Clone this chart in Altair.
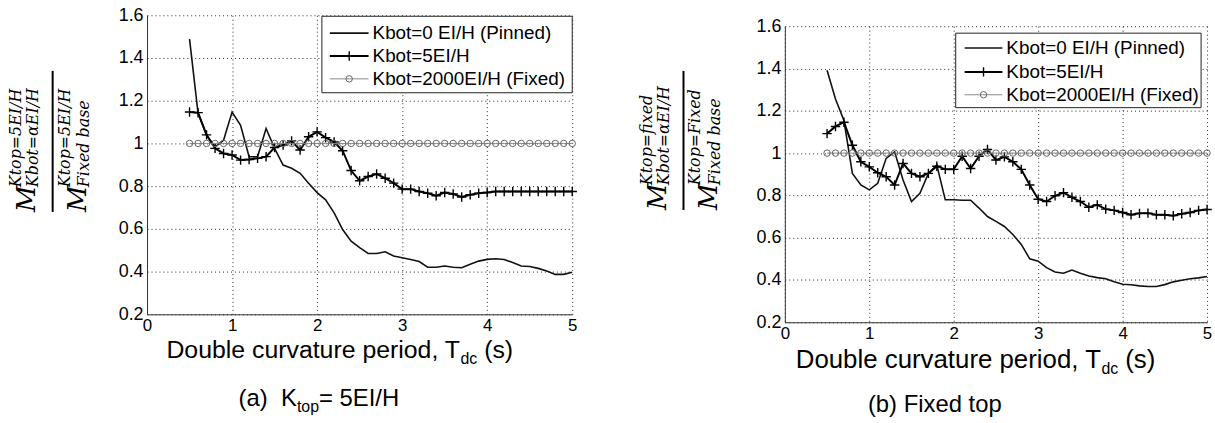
import altair as alt
import pandas as pd

# ---------------- data ----------------
T = [0.5, 0.6, 0.7, 0.8, 0.9, 1.0, 1.1, 1.2, 1.3, 1.4, 1.5, 1.6, 1.7, 1.8, 1.9,
     2.0, 2.1, 2.2, 2.3, 2.4, 2.5, 2.6, 2.7, 2.8, 2.9, 3.0, 3.1, 3.2, 3.3, 3.4,
     3.5, 3.6, 3.7, 3.8, 3.9, 4.0, 4.1, 4.2, 4.3, 4.4, 4.5, 4.6, 4.7, 4.8, 4.9, 5.0]

left_pinned = [1.488, 1.141, 1.039, 0.984, 1.015, 1.147, 1.085, 0.938, 0.938, 1.070,
               0.977, 0.899, 0.884, 0.860, 0.814, 0.770, 0.736, 0.675, 0.597, 0.542,
               0.512, 0.485, 0.485, 0.493, 0.473, 0.465, 0.457, 0.447, 0.421, 0.420,
               0.426, 0.420, 0.418, 0.434, 0.449, 0.457, 0.460, 0.457, 0.442, 0.426,
               0.424, 0.415, 0.403, 0.387, 0.387, 0.397]
left_k5 = [1.147, 1.144, 1.040, 0.977, 0.953, 0.946, 0.922, 0.925, 0.930, 0.938,
           0.981, 0.992, 1.012, 0.969, 1.031, 1.054, 1.027, 1.007, 0.966, 0.873,
           0.825, 0.845, 0.857, 0.837, 0.814, 0.786, 0.786, 0.775, 0.767, 0.755,
           0.770, 0.763, 0.749, 0.760, 0.767, 0.770, 0.775, 0.775, 0.775, 0.775,
           0.775, 0.775, 0.775, 0.775, 0.775, 0.775]
right_pinned = [1.392, 1.256, 1.154, 0.904, 0.849, 0.826, 0.857, 0.975, 1.006, 0.873,
                0.771, 0.810, 0.904, 0.943, 0.779, 0.779, 0.777, 0.777, 0.740, 0.700,
                0.677, 0.653, 0.615, 0.568, 0.500, 0.489, 0.458, 0.438, 0.432, 0.447,
                0.432, 0.419, 0.411, 0.406, 0.391, 0.380, 0.377, 0.372, 0.369, 0.369,
                0.378, 0.391, 0.399, 0.406, 0.410, 0.416]
right_k5 = [1.092, 1.126, 1.146, 1.037, 0.959, 0.935, 0.907, 0.888, 0.849, 0.951,
            0.904, 0.888, 0.904, 0.938, 0.923, 0.923, 0.985, 0.927, 0.985, 1.017,
            0.967, 0.982, 0.959, 0.923, 0.849, 0.782, 0.771, 0.798, 0.813, 0.791,
            0.771, 0.744, 0.755, 0.735, 0.729, 0.719, 0.708, 0.715, 0.716, 0.708,
            0.708, 0.704, 0.713, 0.719, 0.729, 0.733]
fixed_base = [1.0, 1.0, 1.0, 1.0, 1.0, 1.0, 1.0, 1.0, 1.0, 1.0, 1.0, 1.0, 1.0, 1.0, 1.0,
              1.0, 1.0, 1.0, 1.0, 1.0, 1.0, 1.0, 1.0, 1.0, 1.0, 1.0, 1.0, 1.0, 1.0, 1.0,
              1.0, 1.0, 1.0, 1.0, 1.0, 1.0, 1.0, 1.0, 1.0, 1.0, 1.0, 1.0, 1.0, 1.0, 1.0, 1.0]

SERIES = ["Kbot=0 EI/H (Pinned)", "Kbot=5EI/H", "Kbot=2000EI/H (Fixed)"]
X_TICKS = [0, 1, 2, 3, 4, 5]
Y_TICKS = [0.2, 0.4, 0.6, 0.8, 1.0, 1.2, 1.4, 1.6]

SANS = "Liberation Sans"
SERIF = "DejaVu Serif"
PLUS = "M-1,0H1M0,-1V1"
NB = "\u00a0"

AW = {' ': 278, NB: 278, '(': 333, ')': 333, ',': 278, '.': 278, '/': 278, '=': 584,
      'A': 667, 'D': 722, 'E': 667, 'F': 611, 'H': 722, 'I': 278, 'K': 667,
      'T': 611, 'a': 556, 'b': 556, 'c': 500, 'd': 556, 'e': 556, 'i': 222,
      'l': 222, 'n': 556, 'o': 556, 'p': 556, 'r': 333, 's': 500, 't': 278,
      'u': 556, 'v': 500, 'x': 500}


def tw(s, size):
    return sum(AW.get(c, 556) for c in s) / 1000.0 * size


one = alt.Chart(pd.DataFrame({"k": [0]}))


def txt(x, y, s, size, font=SANS, align="left", baseline="alphabetic", angle=0, style="normal", color="black"):
    kw = dict(align=align, baseline=baseline, font=font, fontSize=size, color=color, fontStyle=style)
    if angle:
        kw["angle"] = angle
    return one.mark_text(**kw).encode(x=alt.value(x), y=alt.value(y), text=alt.value(s))


def sub_text(parts, center_x, base_y, big, small):
    # parts: (text, is_subscript, gap_before_in_px)
    total = sum(tw(p, small if s else big) + g for p, s, g in parts)
    x = center_x - total / 2.0
    out = []
    for p, s, g in parts:
        x += g
        if s:
            out.append(txt(x, base_y + 6, p, small))
            x += tw(p, small)
        else:
            out.append(txt(x, base_y, p, big))
            x += tw(p, big)
    return out


def panel(pinned, k5, W, H, leg, frac, xt, cap):
    n = len(T)
    df = pd.DataFrame({
        "T": T * 3,
        "v": pinned + k5 + fixed_base,
        "s": ["pinned"] * n + ["k5"] * n + ["fixed"] * n,
    })
    X = alt.X("T:Q", scale=alt.Scale(domain=[0, 5], nice=False, zero=False),
              axis=alt.Axis(values=X_TICKS, format="d", title=None, grid=True,
                            gridColor="black", gridDash=[1, 3], gridOpacity=0.85,
                            ticks=False, domainColor="#333", domainWidth=1,
                            labelFont=SANS, labelFontSize=17, labelColor="black",
                            labelPadding=3, labelFlush=False))
    Y = alt.Y("v:Q", scale=alt.Scale(domain=[0.2, 1.6], nice=False, zero=False),
              axis=alt.Axis(values=Y_TICKS, format="~g", title=None, grid=True,
                            gridColor="black", gridDash=[1, 3], gridOpacity=0.85,
                            ticks=False, domainColor="#333", domainWidth=1,
                            labelFont=SANS, labelFontSize=18, labelColor="black",
                            labelPadding=4, labelFlush=False))
    base = alt.Chart(df)
    layers = [
        base.transform_filter(alt.datum.s == "pinned").mark_line(color="#111", strokeWidth=1.6).encode(x=X, y=Y),
        base.transform_filter(alt.datum.s == "k5").mark_line(color="black", strokeWidth=2).encode(x=X, y=Y),
        base.transform_filter(alt.datum.s == "k5").mark_point(shape=PLUS, size=90, color="black", strokeWidth=1.4, opacity=1).encode(x=X, y=Y),
        base.transform_filter(alt.datum.s == "fixed").mark_line(color="#888", strokeWidth=1).encode(x=X, y=Y),
        base.transform_filter(alt.datum.s == "fixed").mark_point(shape="circle", size=42, color="#666", filled=False, strokeWidth=1, opacity=1).encode(x=X, y=Y),
    ]
    # legend
    bx0, bx1, by0, by1, ys, lx0, lx1, tx = leg
    layers.append(one.mark_rect(fill="white", stroke="#222", strokeWidth=1).encode(
        x=alt.value(bx0), x2=alt.value(bx1), y=alt.value(by0), y2=alt.value(by1)))
    styles = [("#111", 1.6), ("black", 2.0), ("#888", 1.0)]
    for i, name in enumerate(SERIES):
        c, w = styles[i]
        layers.append(one.mark_rule(color=c, strokeWidth=w).encode(
            x=alt.value(lx0), x2=alt.value(lx1), y=alt.value(ys[i])))
        mid = (lx0 + lx1) / 2.0
        if i == 1:
            layers.append(one.mark_point(shape=PLUS, size=90, color="black", strokeWidth=1.4, opacity=1).encode(
                x=alt.value(mid), y=alt.value(ys[i])))
        if i == 2:
            layers.append(one.mark_point(shape="circle", size=42, color="#666", filled=False, strokeWidth=1, opacity=1).encode(
                x=alt.value(mid), y=alt.value(ys[i])))
        layers.append(txt(tx, ys[i], name, 19, baseline="middle"))
    # y title (fraction)
    lx, ly0, ly1, nsup, nsub, dsup, dsub = frac
    layers.append(one.mark_rule(color="black", strokeWidth=2).encode(
        x=alt.value(lx), y=alt.value(ly0), y2=alt.value(ly1)))
    sy = ly1 - 25
    layers.append(txt(lx - 32, sy, nsup, 16, font=SERIF, angle=270, style="italic"))
    layers.append(txt(lx - 18, ly1, "M", 26, font=SERIF, angle=270, style="italic"))
    layers.append(txt(lx - 15, sy, nsub, 16, font=SERIF, angle=270, style="italic"))
    layers.append(txt(lx + 17, sy, dsup, 16, font=SERIF, angle=270, style="italic"))
    layers.append(txt(lx + 34, ly1, "M", 26, font=SERIF, angle=270, style="italic"))
    layers.append(txt(lx + 37, sy, dsub, 16, font=SERIF, angle=270, style="italic"))
    # x title and caption
    cx, by, tsize = xt
    layers += sub_text([("Double curvature period, T", False, 0), ("dc", True, 0), ("(s)", False, 7)],
                       cx, by, tsize, 16)
    ccx, cby, csize, cparts = cap
    layers += sub_text(cparts, ccx, cby, csize, 16)
    return alt.layer(*layers).properties(width=W, height=H)


left = panel(left_pinned, left_k5, 428, 301,
             (176, 428, 1, 78, [18, 41, 64], 184, 223, 227),
             (-95, 56, 198, "Ktop=5EI/H", "Kbot=αEI/H", "Ktop=5EI/H", "Fixed base"),
             (194, 345, 25),
             (173, 393, 24, [("(a)" + NB + NB + "K", False, 0), ("top", True, 0), ("=" + NB + "5EI/H", False, 0)]))
right = panel(right_pinned, right_k5, 425, 298,
              (172, 419, 7, 82, [22, 46, 69], 181, 219, 223),
              (-102, 45, 185, "Ktop=fixed", "Kbot=αEI/H", "Ktop=Fixed", "Fixed base"),
              (192, 344, 26),
              (151, 388, 24, [("(b)" + NB + "Fixed" + NB + "top", False, 0)]))

spacer = one.mark_rule(strokeOpacity=0).encode(
    x=alt.value(0), y=alt.value(0), y2=alt.value(1)).properties(width=425, height=2)
right_col = alt.vconcat(spacer, right, spacing=0)

chart = alt.hconcat(left, right_col, spacing=59).configure_view(strokeWidth=0).properties(
    padding={"left": 8, "top": 5, "right": 0, "bottom": 0}, background="white")

chart.save("out.html", embed_options={"renderer": "svg", "actions": False})
